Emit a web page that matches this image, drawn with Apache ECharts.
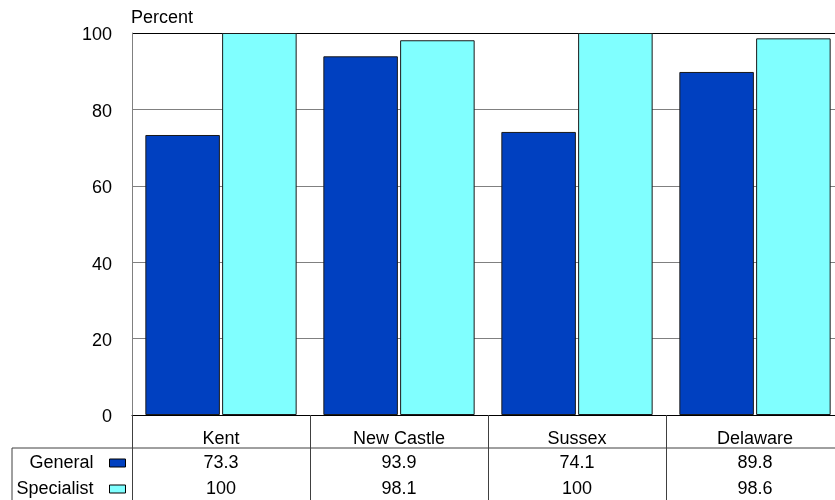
<!DOCTYPE html>
<html><head><meta charset="utf-8">
<script src="https://cdn.jsdelivr.net/npm/echarts@6/dist/echarts.min.js"></script>
<style>html,body{margin:0;padding:0;background:#fff;overflow:hidden}#c{width:850px;height:500px}</style>
</head><body><div id="c"></div>
<script>
var categories = ['Kent', 'New Castle', 'Sussex', 'Delaware'];
var general = [73.3, 93.9, 74.1, 89.8];
var specialist = [100, 98.1, 100, 98.6];
var seriesNames = ['General', 'Specialist'];
var yTicks = [0, 20, 40, 60, 80, 100];

var FONT = '"Liberation Sans", Arial, sans-serif';
var FS = 18;
var chart = echarts.init(document.getElementById('c'));
function fmt(v){ return String(v); }
var opt = {
  animation: false,
  textStyle: {fontFamily: FONT, color: '#000'},
  grid: {left: 132, top: 33, width: 712, height: 382},
  legend: {
    orient: 'vertical', right: 724, top: 454, padding: 0,
    align: 'right', itemWidth: 16, itemHeight: 8, itemGap: 8, icon: 'rect',
    textStyle: {fontFamily: FONT, fontSize: FS, color: '#000', padding: [0, 11, 0, 0]},
    itemStyle: {borderColor: '#000', borderWidth: 1},
    data: seriesNames
  },
  xAxis: [
    {type: 'category', data: categories, position: 'bottom',
     axisLine: {lineStyle: {color: '#000', width: 1}},
     axisTick: {show: true, length: 90, inside: false, lineStyle: {color: '#404040'}},
     axisLabel: {fontFamily: FONT, fontSize: FS, color: '#000', margin: 15, interval: 0}},
    {type: 'category', data: general.map(fmt), position: 'bottom',
     axisLine: {show: false}, axisTick: {show: false},
     axisLabel: {fontFamily: FONT, fontSize: FS, color: '#000', margin: 39, interval: 0}},
    {type: 'category', data: specialist.map(fmt), position: 'bottom',
     axisLine: {show: false}, axisTick: {show: false},
     axisLabel: {fontFamily: FONT, fontSize: FS, color: '#000', margin: 65, interval: 0}}
  ],
  yAxis: {
    type: 'value', min: yTicks[0], max: yTicks[yTicks.length - 1], interval: 20,
    name: 'Percent', nameLocation: 'end', nameGap: 6,
    nameTextStyle: {fontFamily: FONT, fontSize: FS, color: '#000', align: 'left', verticalAlign: 'bottom', padding: [0, 0, 0, -1]},
    axisLine: {show: true, lineStyle: {color: '#808080'}},
    axisTick: {show: false},
    axisLabel: {fontFamily: FONT, fontSize: FS, color: '#000', margin: 20,
      formatter: function (v) { return '{a|' + v + '}'; },
      rich: {a: {fontFamily: FONT, fontSize: FS, color: '#000', padding: [5, 0, 0, 0]}}},
    splitLine: {show: true, lineStyle: {color: ['#000', '#808080', '#808080', '#808080', '#808080', '#000'], width: 1}}
  },
  series: [
    {name: seriesNames[0], type: 'bar', data: general, xAxisIndex: 0,
     barCategoryGap: '15%', barGap: '3%',
     itemStyle: {color: '#0040C0', borderColor: '#1a1a1a', borderWidth: 1}},
    {name: seriesNames[1], type: 'bar', data: specialist, xAxisIndex: 0,
     barCategoryGap: '15%', barGap: '3%',
     itemStyle: {color: '#80FFFF', borderColor: '#1a1a1a', borderWidth: 1}}
  ],
  graphic: [
    {type: 'line', shape: {x1: 12, y1: 448, x2: 850, y2: 448}, style: {stroke: '#404040', lineWidth: 1}},
    {type: 'line', shape: {x1: 12, y1: 448, x2: 12, y2: 500}, style: {stroke: '#404040', lineWidth: 1}}
  ]
};
chart.setOption(opt);
</script>
</body></html>
